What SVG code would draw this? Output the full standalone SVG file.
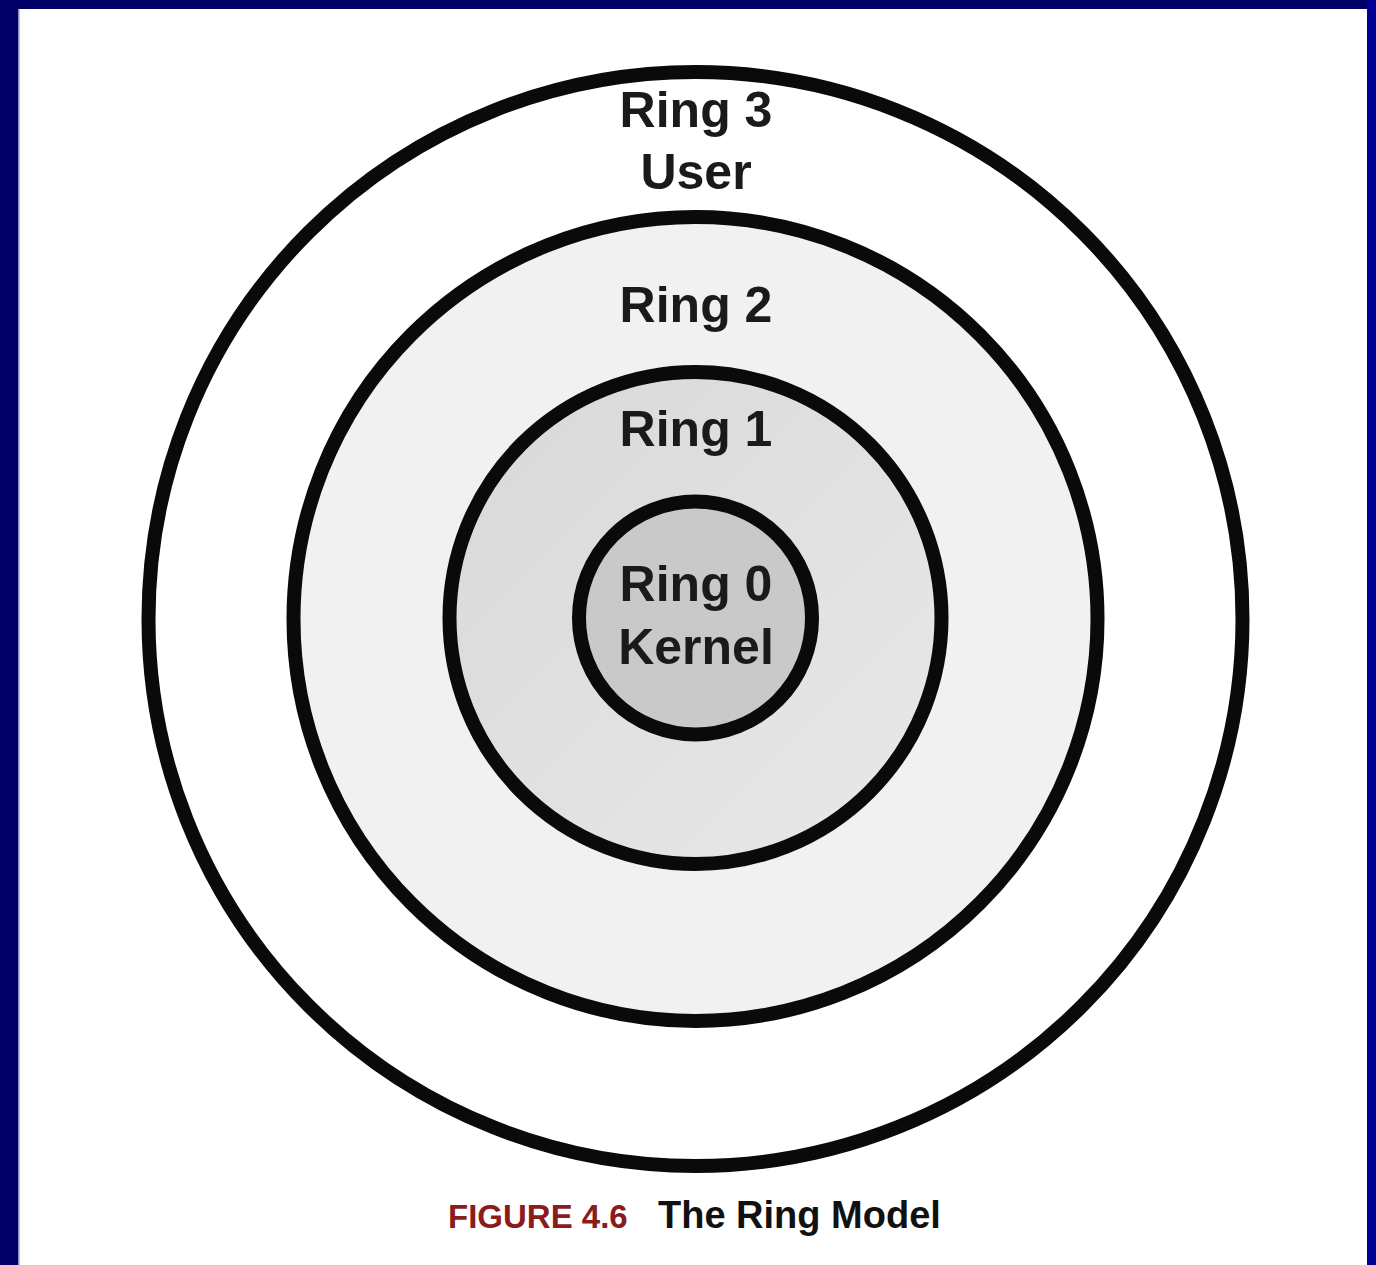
<svg xmlns="http://www.w3.org/2000/svg" width="1376" height="1265" viewBox="0 0 1376 1265">
<style>
.ring{stroke:#0a0a0a;stroke-width:14}
.lbl{font-family:"Liberation Sans",Arial,sans-serif;font-weight:bold;font-size:50px;fill:#1a1a1a;text-anchor:middle}
.cap{font-family:"Liberation Sans",Arial,sans-serif;font-weight:bold}
</style>
<defs>
<linearGradient id="g1" x1="0" y1="0" x2="1" y2="1">
<stop offset="0" stop-color="#d8d8d8"/>
<stop offset="1" stop-color="#e9e9e9"/>
</linearGradient>
</defs>
<rect width="1376" height="1265" fill="#ffffff"/>
<rect x="0" y="0" width="1376" height="9" fill="#000068"/>
<rect x="0" y="0" width="18" height="1265" fill="#000068"/>
<rect x="18" y="9" width="1.5" height="1256" fill="#8c8cc8"/>
<rect x="1367" y="0" width="9" height="1265" fill="#000096"/>
<g id="ring3"><circle class="ring" cx="695.5" cy="619" r="547" fill="#ffffff"/><text class="lbl" x="696" y="127">Ring 3</text><text class="lbl" x="696" y="189">User</text></g>
<g id="ring2"><circle class="ring" cx="695.5" cy="619" r="402" fill="#f1f1f1"/><text class="lbl" x="696" y="322">Ring 2</text></g>
<g id="ring1"><circle class="ring" cx="695.5" cy="618" r="246" fill="url(#g1)"/><text class="lbl" x="696" y="446">Ring 1</text></g>
<g id="ring0"><circle class="ring" cx="695.5" cy="618" r="116.5" fill="#c9c9c9"/><text class="lbl" x="696" y="601">Ring 0</text><text class="lbl" x="696" y="664">Kernel</text></g>
<g id="connectors"></g>
<g id="caption"><text class="cap" x="448" y="1228" font-size="33" fill="#8b1c1c">FIGURE 4.6</text><text class="cap" x="658" y="1228" font-size="38" fill="#111111">The Ring Model</text></g>
</svg>
